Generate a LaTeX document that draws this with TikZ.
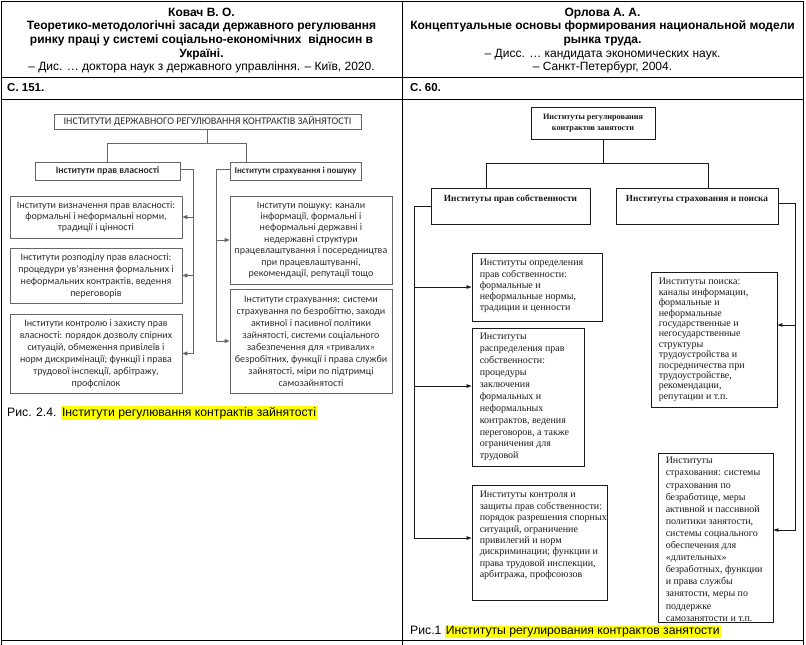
\documentclass[tikz,border=0pt]{standalone}
\usepackage{fontspec}
\setmainfont{Liberation Sans}
\newfontfamily\scanfont{Carlito}
\newfontfamily\bookfont{Liberation Serif}
\usepackage{xcolor}
\usetikzlibrary{arrows.meta, positioning}
\definecolor{hlyellow}{HTML}{FFFF00}
\definecolor{scangray}{HTML}{2C2C2C}
\definecolor{linegray}{HTML}{666666}
\definecolor{inkdark}{HTML}{1A1A1A}
\newcommand{\hilite}[1]{{\setlength{\fboxsep}{1pt}\colorbox{hlyellow}{#1}}}

\tikzset{
  tablerule/.style={draw=black, line width=1pt},
  cellhead/.style={align=center, inner sep=0pt, font=\fontsize{12}{13.7}\selectfont},
  pageref/.style={anchor=west, inner sep=0pt, font=\bfseries\fontsize{11.5}{13}\selectfont},
  caption/.style={anchor=west, inner sep=0pt, font=\fontsize{12.2}{14}\selectfont},
  lbox/.style={draw=linegray, line width=0.8pt, inner sep=2pt, align=center, text=scangray,
    font=\scanfont\fontsize{10}{12}\selectfont},
  lhead/.style={lbox, font=\scanfont\bfseries\fontsize{9.8}{11}\selectfont},
  lwire/.style={draw=linegray, line width=0.8pt},
  larrow/.style={lwire, -{Triangle[length=5pt,width=4pt]}},
  rbox/.style={draw=inkdark, line width=0.9pt, inner sep=0pt},
  rhead/.style={rbox, align=center, text=inkdark, font=\bookfont\bfseries\fontsize{9.3}{11}\selectfont},
  rtext/.style={anchor=north west, align=left, inner sep=0pt, text=inkdark,
    font=\bookfont\fontsize{10}{11.2}\selectfont},
  rwire/.style={draw=inkdark, line width=0.8pt},
  rarrow/.style={rwire, -{Triangle[length=5pt,width=3.5pt]}}
}

\begin{document}
\begin{tikzpicture}[x=1pt, y=-1pt]
\useasboundingbox (0,0) rectangle (806,645);

% table
\draw[tablerule] (1,645) -- (1,1) -- (803,1) -- (803,645);
\draw[tablerule] (402,1) -- (402,645);
\draw[tablerule] (1,77) -- (803,77);
\draw[tablerule] (1,99) -- (803,99);
\draw[tablerule] (1,640) -- (803,640);

\node[cellhead] (hdleft) at (201.5,40.5) {\textbf{Ковач В. О.}\\
  \textbf{Теоретико-методологічні засади державного регулювання}\\
  \textbf{ринку праці у системі соціально-економічних \ відносин в}\\
  \textbf{Україні.}\\
  – Дис. … доктора наук з державного управління. – Київ, 2020.};
\node[cellhead] (hdright) at (602.5,40.5) {\textbf{Орлова А. А.}\\
  \textbf{Концептуальные основы формирования национальной модели}\\
  \textbf{рынка труда.}\\
  – Дисс. … кандидата экономических наук.\\
  – Санкт-Петербург, 2004.};
\node[pageref] (pgleft) at (7,88) {С. 151.};
\node[pageref] (pgright) at (410,88) {С. 60.};

% left scheme
\node[lbox, minimum width=307pt, minimum height=15pt, font=\scanfont\fontsize{10.2}{11}\selectfont]
  (lroot) at (207.5,121.5) {ІНСТИТУТИ ДЕРЖАВНОГО РЕГУЛЮВАННЯ КОНТРАКТІВ ЗАЙНЯТОСТІ};
\node[lhead, minimum width=145pt, minimum height=18pt] (lprop) at (107.5,171) {Інститути прав власності};
\node[lhead, minimum width=131pt, minimum height=18pt, font=\scanfont\bfseries\fontsize{9}{11}\selectfont]
  (lins) at (295.5,171) {Інститути страхування і пошуку};

\node[lbox, minimum width=172pt, minimum height=42pt, font=\scanfont\fontsize{10}{11.3}\selectfont]
  (lp1) at (96,217) {Інститути визначення прав власності:\\формальні і неформальні норми,\\традиції і цінності};
\node[lbox, minimum width=172pt, minimum height=55pt] (lp2) at (96,275.5)
  {Інститути розподілу прав власності:\\процедури ув’язнення формальних і\\неформальних контрактів, ведення\\переговорів};
\node[lbox, minimum width=172pt, minimum height=79pt] (lp3) at (96,353.5)
  {Інститути контролю і захисту прав\\власності: порядок дозволу спірних\\ситуацій, обмеження привілеїв і\\норм дискримінації; функції і права\\трудової інспекції, арбітражу,\\профспілок};
\node[lbox, minimum width=162pt, minimum height=88pt, font=\scanfont\fontsize{10}{11.4}\selectfont]
  (li1) at (311,240) {Інститути пошуку: канали\\інформації, формальні і\\неформальні державні і\\недержавні структури\\працевлаштування і посередництва\\при працевлаштуванні,\\рекомендації, репутації тощо};
\node[lbox, minimum width=162pt, minimum height=104pt] (li2) at (311,341)
  {Інститути страхування: системи\\страхування по безробіттю, заходи\\активної і пасивної політики\\зайнятості, системи соціального\\забезпечення для «тривалих»\\безробітних, функції і права служби\\зайнятості, міри по підтримці\\самозайнятості};

\draw[lwire] (lroot.south) -- ++(0,14) coordinate (lfork);
\draw[lwire] (lprop.north) |- (lfork) -| ([xshift=17pt]lins.north west);
\draw[lwire] ([yshift=2pt]lprop.east) -- ++(13,0) coordinate (lbusl);
\draw[larrow] (lbusl) |- (lp3.east);
\draw[larrow] (lbusl |- lp1.east) -- (lp1.east);
\draw[larrow] (lbusl |- lp2.east) -- (lp2.east);
\draw[lwire] ([yshift=2pt]lins.west) -- ++(-13,0) coordinate (lbusr);
\draw[larrow] (lbusr) |- (li2.west);
\draw[larrow] (lbusr |- li1.west) -- (li1.west);

\node[caption] (capleft) at (7,413) {Рис. 2.4. \hilite{Інститути регулювання контрактів зайнятості}};

% right scheme
\node[rhead, minimum width=124pt, minimum height=32pt, font=\bookfont\bfseries\fontsize{8.2}{11}\selectfont]
  (rroot) at (593,123) {Институты регулирования\\контрактов занятости};
\node[rhead, minimum width=159pt, minimum height=36pt, text height=13pt, text depth=23pt]
  (rprop) at (510.5,206) {Институты прав собственности};
\node[rhead, minimum width=162pt, minimum height=36pt, text height=13pt, text depth=23pt]
  (rins) at (697,206) {Институты страхования и поиска};

\node[rbox, minimum width=130pt, minimum height=68pt] (rl1) at (537,287) {};
\node[rtext] (rl1t) at ([shift={(8,6.5)}]rl1.north west)
  {Институты определения\\прав собственности:\\формальные и\\неформальные нормы,\\традиции и ценности};
\node[rbox, minimum width=112pt, minimum height=138pt] (rl2) at (528,397) {};
\node[rtext, font=\bookfont\fontsize{10}{11.9}\selectfont] (rl2t) at ([shift={(8,5.5)}]rl2.north west)
  {Институты\\распределения прав\\собственности:\\процедуры\\заключения\\формальных и\\неформальных\\контрактов, ведения\\переговоров, а также\\ограничения для\\трудовой};
\node[rbox, minimum width=135pt, minimum height=115pt] (rl3) at (539.5,542.5) {};
\node[rtext, font=\bookfont\fontsize{10}{11.4}\selectfont] (rl3t) at ([shift={(8,6.5)}]rl3.north west)
  {Институты контроля и\\защиты прав собственности:\\порядок разрешения спорных\\ситуаций, ограничение\\привилегий и норм\\дискриминации; функции и\\права трудовой инспекции,\\арбитража, профсоюзов};
\node[rbox, minimum width=126pt, minimum height=135pt] (rr1) at (714,339.5) {};
\node[rtext, font=\bookfont\fontsize{10}{10.4}\selectfont] (rr1t) at ([shift={(8,6.5)}]rr1.north west)
  {Институты поиска:\\каналы информации,\\формальные и\\неформальные\\государственные и\\негосударственные\\структуры\\трудоустройства и\\посредничества при\\трудоустройстве,\\рекомендации,\\репутации и т.п.};
\node[rbox, minimum width=115pt, minimum height=169pt] (rr2) at (715.5,537.5) {};
\begin{scope}
  \clip (rr2.north west) rectangle (rr2.south east);
  \node[rtext, font=\bookfont\fontsize{10}{12.1}\selectfont] (rr2t) at ([shift={(8,4.5)}]rr2.north west)
    {Институты\\страхования: системы\\страхования по\\безработице, меры\\активной и пассивной\\политики занятости,\\системы социального\\обеспечения для\\«длительных»\\безработных, функции\\и права службы\\занятости, меры по\\поддержке\\самозанятости и т.п.};
\end{scope}

\draw[rwire] ([xshift=10pt]rroot.south) -- ++(0,24) coordinate (rfork);
\draw[rwire] ([xshift=-24.5pt]rprop.north) |- (rfork) -| ([xshift=11pt]rins.north);
\draw[rwire] (rprop.west) -- ++(-16,0) coordinate (rbusl);
\coordinate (rl2in) at ([yshift=11pt]rl2.west);
\coordinate (rl3in) at ([yshift=4.5pt]rl3.west);
\draw[rarrow] (rbusl) |- (rl3in);
\draw[rarrow] (rbusl |- rl1.west) -- (rl1.west);
\draw[rarrow] (rbusl |- rl2in) -- (rl2in);
\draw[rwire] ([yshift=3pt]rins.east) -- ++(17,0) coordinate (rbusr);
\coordinate (rr1in) at ([yshift=14.5pt]rr1.east);
\coordinate (rr2in) at ([yshift=7.5pt]rr2.east);
\draw[rarrow] (rbusr) |- (rr2in);
\draw[rarrow] (rbusr |- rr1in) -- (rr1in);

\node[caption] (capright) at (410,632) {Рис.1 \hilite{Институты регулирования контрактов занятости}};
\end{tikzpicture}
\end{document}
